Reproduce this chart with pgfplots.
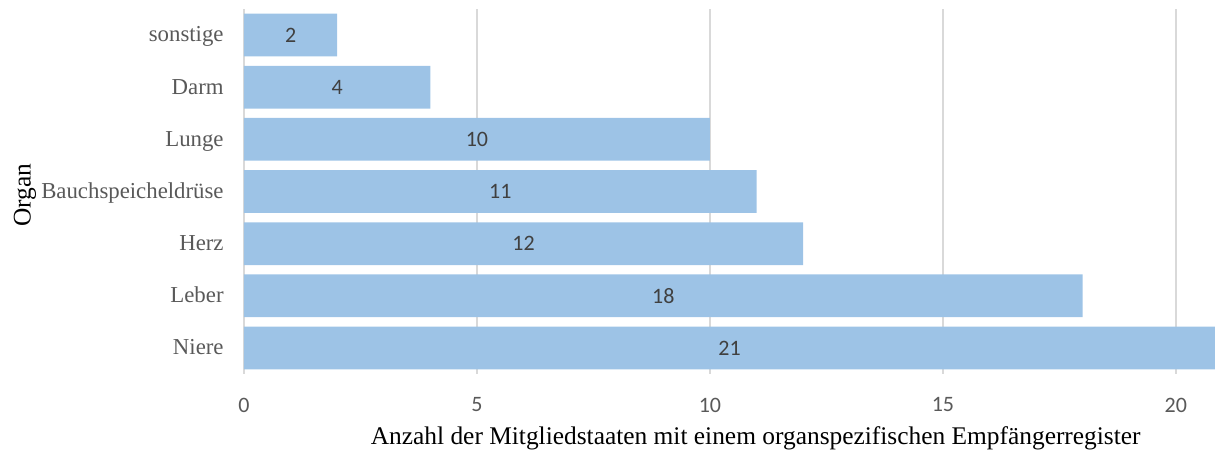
\documentclass[border=0pt]{standalone}
\usepackage{fontspec}
\setmainfont{Liberation Serif}
\newfontfamily\carlito{Carlito}
\usepackage{pgfplots}
\pgfplotsset{compat=1.18}
\definecolor{barblue}{HTML}{9DC3E6}
\definecolor{gridgray}{HTML}{D9D9D9}
\definecolor{labgray}{HTML}{595959}
\definecolor{datgray}{HTML}{404040}
\begin{document}
\begin{tikzpicture}
\begin{axis}[
 name=ax,
 scale only axis,
 width=485.5pt, height=182.5pt,
 xmin=0, xmax=20.84, ymin=-0.5, ymax=6.5,
 ytick={0,...,6},
 yticklabels={Niere,Leber,Herz,Bauchspeicheldrüse,Lunge,Darm,sonstige},
 xtick={0,5,10,15,20},
 axis line style={draw=none},
 major tick length=0pt,
 xmajorgrids, grid style={gridgray, line width=0.75pt},
 /pgf/number format/assume math mode=true,
 xticklabel style={font=\carlito\fontsize{11}{13}\selectfont, text=labgray, anchor=center, yshift=-15.5pt},
 yticklabel style={font=\fontsize{11.4}{13}\selectfont, text=labgray, anchor=base east, inner sep=0pt, xshift=-10pt, yshift=-3.4pt},
 xlabel={Anzahl der Mitgliedstaaten mit einem organspezifischen Empfängerregister},
 ylabel={Organ},
 xlabel style={font=\fontsize{12.7}{15}\selectfont, at={(rel axis cs:0.527,-0.1753)}, anchor=center},
 ylabel style={font=\fontsize{12.7}{15}\selectfont, at={(rel axis cs:-0.2256,0.49)}, anchor=center},
]
\addplot[xbar, bar width=0.82, bar shift=0pt, fill=barblue, draw=none]
 coordinates {(21,0) (18,1) (12,2) (11,3) (10,4) (4,5) (2,6)};
\addplot[only marks, mark=none, draw=none,
 point meta=explicit symbolic,
 nodes near coords, nodes near coords align={center},
 every node near coord/.append style={font=\carlito\fontsize{11}{13}\selectfont, text=datgray}]
 coordinates {(10.42,0)[21] (9,1)[18] (6,2)[12] (5.5,3)[11] (5,4)[10] (2,5)[4] (1,6)[2]};
\end{axis}
\pgfresetboundingbox
\path[use as bounding box] ([xshift=-122pt,yshift=-39.5pt]ax.south west) rectangle ([yshift=4.5pt]ax.north east);
\end{tikzpicture}
\end{document}
